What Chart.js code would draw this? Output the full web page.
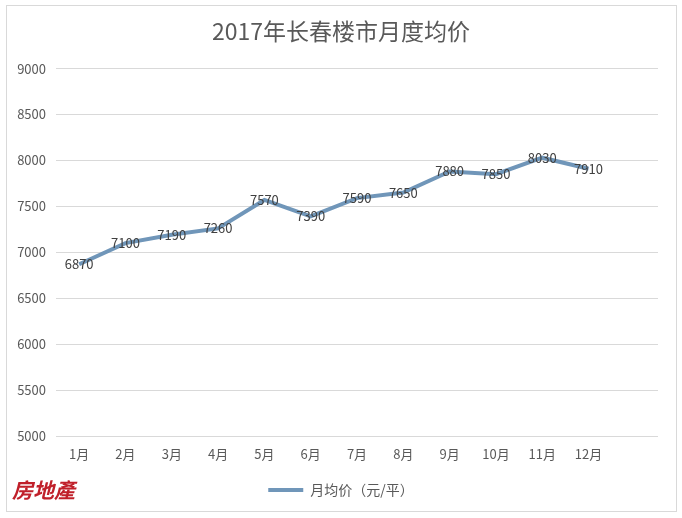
<!DOCTYPE html>
<html>
<head>
<meta charset="utf-8">
<script src="https://cdn.jsdelivr.net/npm/chart.js@4"></script>
<style>
html,body{margin:0;padding:0;background:#fff;}
#wrap{width:682px;height:518px;position:relative;}
</style>
</head>
<body>
<div id="wrap"><canvas id="c" width="682" height="518"></canvas></div>
<script>
const months = ['1月','2月','3月','4月','5月','6月','7月','8月','9月','10月','11月','12月',''];
const avgPrice = [6870,7100,7190,7260,7570,7390,7590,7650,7880,7850,8030,7910,null];
const yTicks = [5000,5500,6000,6500,7000,7500,8000,8500,9000];
const titleText = '2017年长春楼市月度均价';
const seriesName = '月均价（元/平）';
const watermark = '房地產';

const FONT = "'Noto Sans CJK SC', 'Noto Sans', sans-serif";

const framePlugin = {
  id: 'frame',
  beforeDraw(chart) {
    const ctx = chart.ctx;
    ctx.save();
    ctx.fillStyle = '#ffffff';
    ctx.fillRect(0, 0, chart.width, chart.height);
    ctx.strokeStyle = '#d9d9d9';
    ctx.lineWidth = 1;
    ctx.strokeRect(6.5, 5.5, 670, 506);
    ctx.restore();
  },
  afterDraw(chart) {
    const ctx = chart.ctx;
    ctx.save();
    ctx.fillStyle = '#c0202a';
    ctx.font = "italic bold 21px 'Noto Sans CJK SC', sans-serif";
    ctx.textBaseline = 'middle';
    ctx.fillText(watermark, 12, 490);
    ctx.restore();
  }
};

const labelPlugin = {
  id: 'vals',
  afterDatasetsDraw(chart) {
    const ctx = chart.ctx;
    const meta = chart.getDatasetMeta(0);
    ctx.save();
    ctx.font = "13px " + FONT;
    ctx.fillStyle = '#404040';
    ctx.textAlign = 'center';
    ctx.textBaseline = 'middle';
    meta.data.forEach((pt, i) => {
      const v = chart.data.datasets[0].data[i];
      if (v == null) return;
      ctx.fillText(String(v), pt.x, pt.y);
    });
    ctx.restore();
  }
};

new Chart(document.getElementById('c'), {
  type: 'line',
  data: {
    labels: months,
    datasets: [{
      label: seriesName,
      data: avgPrice,
      borderColor: '#7096b9',
      backgroundColor: '#7096b9',
      borderWidth: 4,
      pointRadius: 0,
      tension: 0,
      fill: false
    }]
  },
  options: {
    responsive: false,
    animation: false,
    layout: { padding: { left: 0, right: 0, top: 10, bottom: 11 } },
    plugins: {
      title: {
        display: true,
        text: titleText,
        color: '#595959',
        font: { family: FONT, size: 23, weight: 'normal' },
        padding: { top: 7, bottom: 24 }
      },
      legend: {
        position: 'bottom',
        labels: {
          color: '#595959',
          font: { family: FONT, size: 14 },
          usePointStyle: true,
          pointStyle: 'line',
          pointStyleWidth: 35,
          boxHeight: 4,
          padding: 10
        }
      },
      tooltip: { enabled: false }
    },
    scales: {
      x: {
        offset: true,
        grid: { display: false, drawTicks: false },
        border: { display: false },
        ticks: { color: '#595959', font: { family: FONT, size: 13 }, padding: 10, maxRotation: 0, autoSkip: false },
        afterFit(s) { s.height = 37; }
      },
      y: {
        min: 5000,
        max: 9000,
        afterBuildTicks(s) { s.ticks = yTicks.map(v => ({ value: v })); },
        grid: { color: '#d9d9d9', lineWidth: 1, drawTicks: false },
        border: { display: false },
        ticks: { color: '#595959', font: { family: FONT, size: 13 }, padding: 10, callback: v => String(v) },
        afterFit(s) { s.width = 56; }
      },
      yRight: {
        position: 'right',
        display: true,
        grid: { display: false, drawTicks: false },
        border: { display: false },
        ticks: { display: false },
        afterFit(s) { s.width = 24; }
      }
    }
  },
  plugins: [framePlugin, labelPlugin]
});
</script>
</body>
</html>
